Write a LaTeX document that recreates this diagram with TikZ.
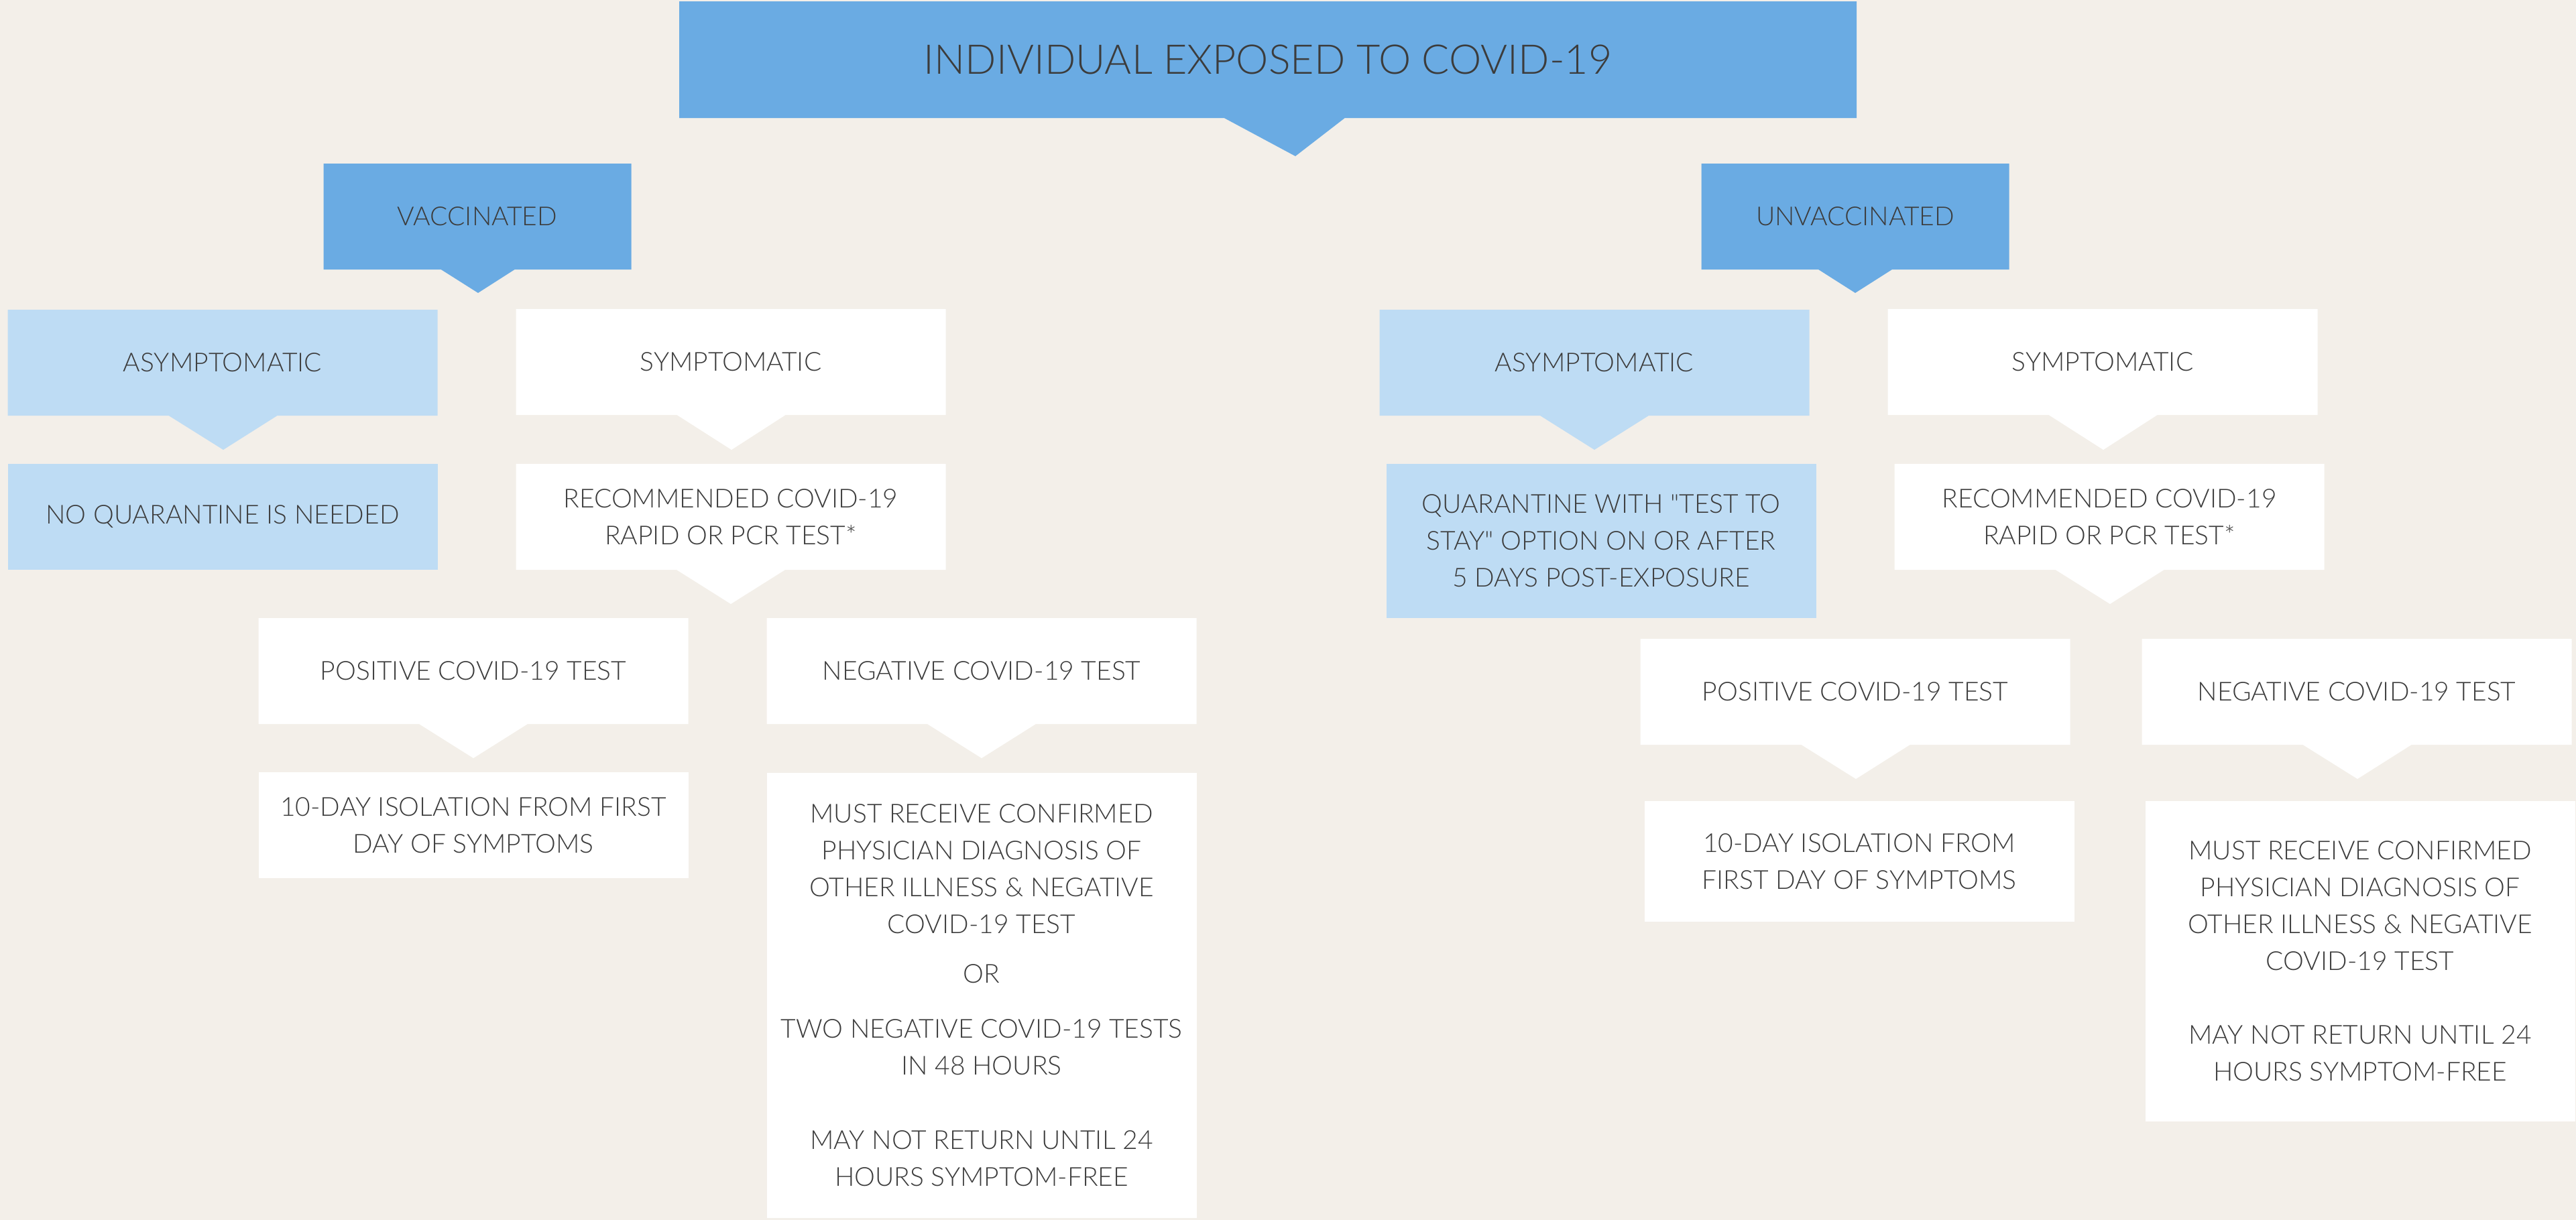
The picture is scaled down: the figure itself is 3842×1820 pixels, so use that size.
\documentclass[tikz,border=0pt]{standalone}
\usepackage{fontspec}
\setmainfont{Lato}[UprightFont=* Light, Ligatures=TeXOff]
\usepackage{tikz}
\usetikzlibrary{shapes.callouts}

\definecolor{pagebg}{RGB}{243,239,233}
\definecolor{darkblue}{RGB}{106,171,227}
\definecolor{lightblue}{RGB}{190,220,244}
\definecolor{inkgray}{RGB}{60,60,60}

\begin{document}
\begin{tikzpicture}[x=1pt, y=-1pt,
    card/.style={rectangle, inner sep=0pt, align=center, text=inkgray,
        font=\fontsize{39}{55}\selectfont, minimum width=641pt,
        minimum height=158pt, callout pointer width=162pt},
    pointto/.style={rectangle callout, callout absolute pointer={#1}},
    darkcard/.style={card, fill=darkblue},
    lightcard/.style={card, fill=lightblue},
    whitecard/.style={card, fill=white}]

    \fill[pagebg] (0,0) rectangle (3842,1820);
    \useasboundingbox (0,0) rectangle (3842,1820);

    \node[darkcard, pointto={(1932,233)}, callout pointer width=180pt,
        minimum width=1756pt, minimum height=174pt,
        font=\fontsize{61}{70}\selectfont] (expo) at (1891,89)
        {INDIVIDUAL EXPOSED TO COVID-19};

    % vaccinated side
    \node[darkcard, pointto={(713,437)}, callout pointer width=110pt,
        minimum width=459pt] (vacc) at (712,323) {VACCINATED};
    \node[lightcard, pointto={(333,671)}] (vasym) at (332,541) {ASYMPTOMATIC};
    \node[whitecard, pointto={(1091,671)}] (vsym) at (1090,540) {SYMPTOMATIC};
    \node[lightcard] (vnoq) at (332,771) {NO QUARANTINE IS NEEDED};
    \node[whitecard, pointto={(1090,901)}] (vrec) at (1090,771)
        {RECOMMENDED COVID-19\\RAPID OR PCR TEST*};
    \node[whitecard, pointto={(706,1131)}] (vpos) at (706,1001)
        {POSITIVE COVID-19 TEST};
    \node[whitecard, pointto={(1464,1131)}] (vneg) at (1464,1001)
        {NEGATIVE COVID-19 TEST};
    \node[whitecard] (viso) at (706,1231)
        {10-DAY ISOLATION FROM FIRST\\DAY OF SYMPTOMS};
    \node[whitecard, minimum height=664pt] (vmust) at (1464,1485)
        {MUST RECEIVE CONFIRMED\\PHYSICIAN DIAGNOSIS OF\\OTHER ILLNESS \& NEGATIVE\\COVID-19 TEST\\[19pt]
         OR\\[27pt]
         TWO NEGATIVE COVID-19 TESTS\\IN 48 HOURS\\[56pt]
         MAY NOT RETURN UNTIL 24\\HOURS SYMPTOM-FREE};

    % unvaccinated side
    \node[darkcard, pointto={(2767,437)}, callout pointer width=110pt,
        minimum width=459pt] (unvacc) at (2767,323) {UNVACCINATED};
    \node[lightcard, pointto={(2378,671)}] (uasym) at (2378,541) {ASYMPTOMATIC};
    \node[whitecard, pointto={(3137,671)}] (usym) at (3136,540) {SYMPTOMATIC};
    \node[lightcard, minimum height=230pt] (uquar) at (2388,807)
        {QUARANTINE WITH "TEST TO\\STAY" OPTION ON OR AFTER\\5 DAYS POST-EXPOSURE};
    \node[whitecard, pointto={(3147,901)}] (urec) at (3146,771)
        {RECOMMENDED COVID-19\\RAPID OR PCR TEST*};
    \node[whitecard, pointto={(2768,1162)}] (upos) at (2767,1032)
        {POSITIVE COVID-19 TEST};
    \node[whitecard, pointto={(3516,1162)}] (uneg) at (3515,1032)
        {NEGATIVE COVID-19 TEST};
    \node[whitecard, minimum height=180pt] (uiso) at (2773,1285)
        {10-DAY ISOLATION FROM\\FIRST DAY OF SYMPTOMS};
    \node[whitecard, minimum height=478pt] (umust) at (3520,1434)
        {MUST RECEIVE CONFIRMED\\PHYSICIAN DIAGNOSIS OF\\OTHER ILLNESS \& NEGATIVE\\COVID-19 TEST\\[55pt]
         MAY NOT RETURN UNTIL 24\\HOURS SYMPTOM-FREE};
\end{tikzpicture}
\end{document}
